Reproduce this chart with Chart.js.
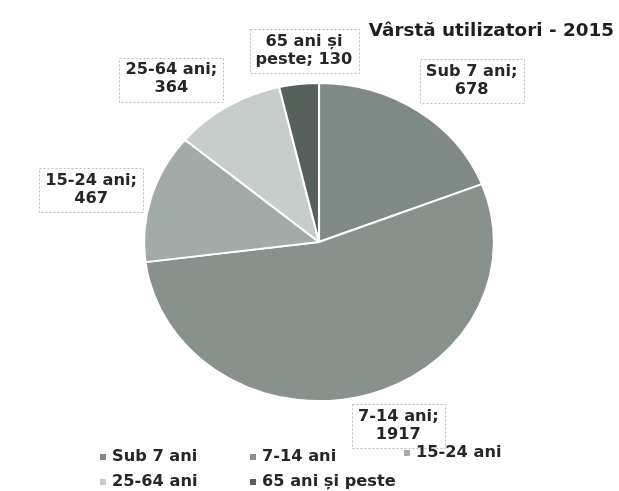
<!DOCTYPE html>
<html>
<head>
<meta charset="utf-8">
<script src="https://cdn.jsdelivr.net/npm/chart.js@4/dist/chart.umd.min.js"></script>
<style>
  html, body { margin: 0; padding: 0; background: #ffffff; }
  #wrap { width: 619px; height: 491px; position: relative; }
</style>
</head>
<body>
<div id="wrap"><canvas id="chart" width="619" height="491"></canvas></div>
<script>
const title = 'Vârstă utilizatori - 2015';
const categories = ['Sub 7 ani', '7-14 ani', '15-24 ani', '25-64 ani', '65 ani și peste'];
const values = [678, 1917, 467, 364, 130];
const labelLines = [
  ['Sub 7 ani;', '678'],
  ['7-14 ani;', '1917'],
  ['15-24 ani;', '467'],
  ['25-64 ani;', '364'],
  ['65 ani și', 'peste; 130']
];
const colors = ['#7f8a86', '#89918d', '#a3aba8', '#c7cdcb', '#56615c'];

// the scanned original is stretched a little wider than tall
const SX = 176 / 168;
const SY = 160 / 168;
const TEXT_SX = 1.08;

// label nudges from the arc edge at the slice's mid-angle
const labelOffsets = [[54, -30], [36, 30], [-60, -7], [-56, -27], [5, -33]];
// legend cells: [marker x, y]
const legendCells = [[103, 457], [253, 457], [407, 453], [103, 482], [253, 482]];

const FONT = '"DejaVu Sans", Verdana, sans-serif';

function wideText(ctx, text, x, y) {
  ctx.save();
  ctx.translate(x, y);
  ctx.scale(TEXT_SX, 1);
  ctx.fillText(text, 0, 0);
  ctx.restore();
}

const stretchPlugin = {
  id: 'stretch',
  beforeDatasetsDraw(chart) {
    const arc = chart.getDatasetMeta(0).data[0];
    const ctx = chart.ctx;
    ctx.save();
    ctx.translate(arc.x, arc.y);
    ctx.scale(SX, SY);
    ctx.translate(-arc.x, -arc.y);
  },
  afterDatasetsDraw(chart) {
    chart.ctx.restore();
  }
};

const decorPlugin = {
  id: 'decor',
  afterDraw(chart) {
    const ctx = chart.ctx;
    const meta = chart.getDatasetMeta(0);
    ctx.save();

    // title
    ctx.fillStyle = '#1c211e';
    ctx.font = 'bold 17px ' + FONT;
    ctx.textAlign = 'right';
    ctx.textBaseline = 'middle';
    wideText(ctx, title, 614, 32);

    // data labels with dotted boxes
    ctx.font = 'bold 15px ' + FONT;
    ctx.textAlign = 'center';
    meta.data.forEach((arc, i) => {
      const mid = (arc.startAngle + arc.endAngle) / 2;
      const ex = arc.x + Math.cos(mid) * arc.outerRadius * SX;
      const ey = arc.y + Math.sin(mid) * arc.outerRadius * SY;
      const cx = ex + labelOffsets[i][0];
      const cy = ey + labelOffsets[i][1];
      const lines = labelLines[i];
      const w = Math.max(...lines.map((l) => ctx.measureText(l).width)) * TEXT_SX + 12;
      const h = 44;
      ctx.strokeStyle = '#b8bcba';
      ctx.lineWidth = 1;
      ctx.setLineDash([2, 2]);
      ctx.strokeRect(Math.round(cx - w / 2) + 0.5, Math.round(cy - h / 2) + 0.5, Math.round(w), h);
      ctx.setLineDash([]);
      ctx.fillStyle = '#232725';
      wideText(ctx, lines[0], cx, cy - 9);
      wideText(ctx, lines[1], cx, cy + 9);
    });

    // legend
    ctx.textAlign = 'left';
    ctx.font = 'bold 15px ' + FONT;
    categories.forEach((name, i) => {
      const [x, y] = legendCells[i];
      ctx.fillStyle = colors[i];
      ctx.fillRect(x - 3, y - 3, 6, 6);
      ctx.fillStyle = '#232725';
      wideText(ctx, name, x + 9, y);
    });

    ctx.restore();
  }
};

new Chart(document.getElementById('chart').getContext('2d'), {
  type: 'pie',
  data: {
    labels: categories,
    datasets: [{
      data: values,
      backgroundColor: colors,
      borderColor: '#ffffff',
      borderWidth: 2
    }]
  },
  options: {
    responsive: false,
    animation: false,
    layout: { padding: { top: 74, bottom: 81, left: 151, right: 132 } },
    plugins: {
      legend: { display: false },
      title: { display: false },
      tooltip: { enabled: false }
    }
  },
  plugins: [stretchPlugin, decorPlugin]
});
</script>
</body>
</html>
